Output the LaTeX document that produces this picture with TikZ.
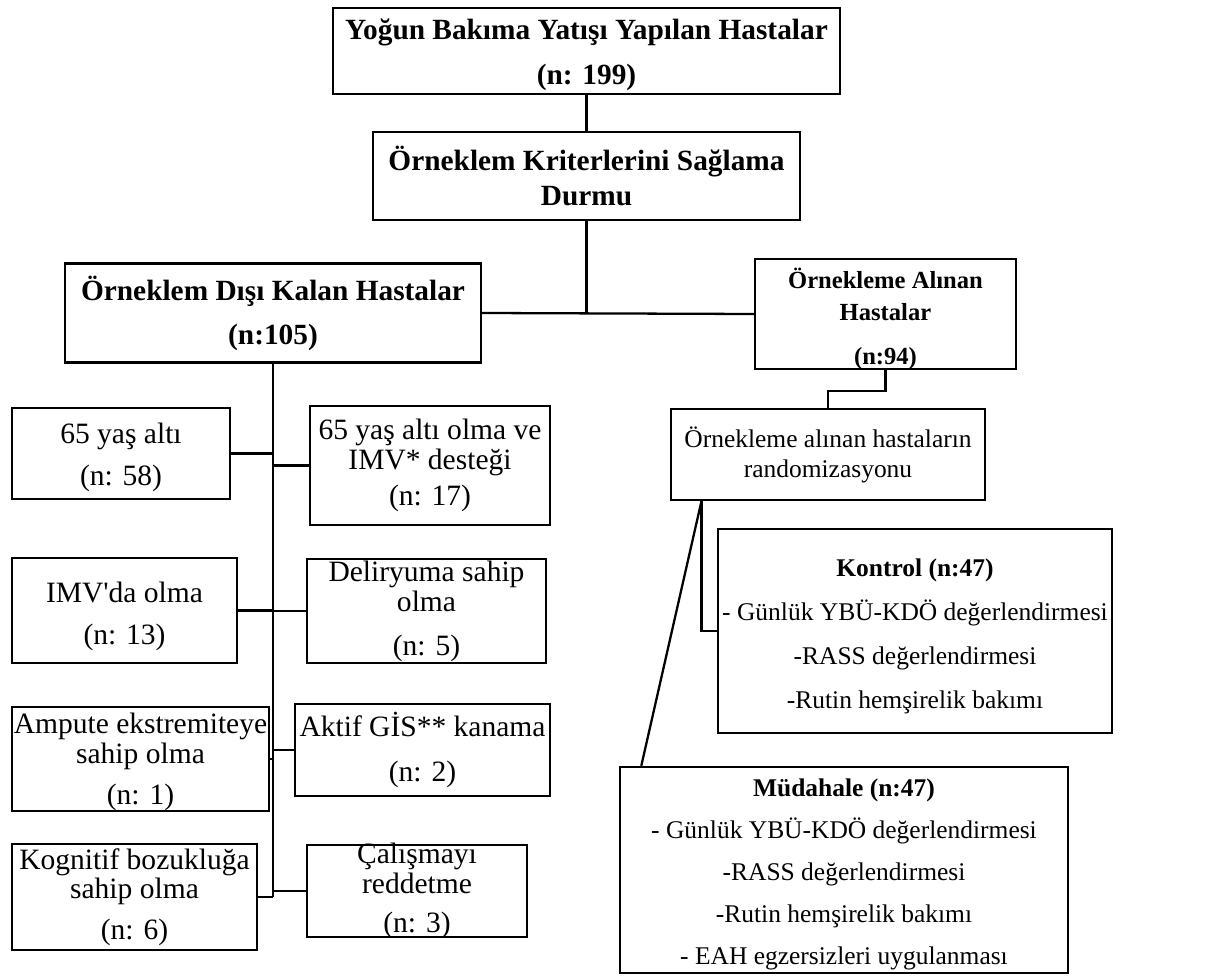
\documentclass[tikz,border=0pt]{standalone}
\usepackage{fontspec}
\setmainfont{Liberation Serif}
\usetikzlibrary{calc}
\NewDocumentCommand\ustpay{m}{\rule{0pt}{#1}}

\tikzset{
  kutu/.style={draw,line width=1.4pt,align=center,inner sep=0pt},
  madde/.style={kutu,font=\fontsize{16.8}{17}\selectfont},
  grup/.style={kutu,font=\fontsize{14.5}{17}\selectfont},
  baslik/.style={kutu,font=\fontsize{16.7}{20}\selectfont\bfseries},
  hat/.style={line width=1.3pt},
  olcu/.style 2 args={minimum width=#1*0.02cm,minimum height=#2*0.02cm},
}

\begin{document}
\begin{tikzpicture}[x=0.02cm,y=-0.02cm]
\useasboundingbox (0,0) rectangle (1216,976);
% ust kisim
\node[baslik,olcu={507}{86}] (yatis) at (586.5,51) {\ustpay{16pt}Yoğun Bakıma Yatışı Yapılan Hastalar\\[6pt](n: 199)};
\node[baslik,olcu={427}{88}] (kriter) at (586.5,176) {Örneklem Kriterlerini Sağlama\\Durmu};
\node[baslik,olcu={416}{99}] (disi) at (273,313) {Örneklem Dışı Kalan Hastalar\\[5pt](n:105)};
\node[baslik,font=\fontsize{14}{18}\selectfont\bfseries,olcu={261}{110},inner ysep=-3.6pt] (alinan) at (885.5,314) {\ustpay{17pt}Örnekleme Alınan\\Hastalar\\[7pt](n:94)};
% dislanan hastalar
\node[madde,olcu={218}{91}] (alti) at (121,453.5) {\ustpay{16pt}65 yaş altı\\[7pt](n: 58)};
\node[madde,olcu={225}{105}] (imv) at (124.5,610.5) {\ustpay{18pt}IMV\textquotesingle da olma\\[7pt](n: 13)};
\node[madde,olcu={257}{104}] (ampute) at (140.5,759) {\ustpay{15pt}Ampute ekstremiteye\\sahip olma\\[6pt](n: 1)};
\node[madde,olcu={245}{106}] (kognitif) at (134.5,897) {Kognitif bozukluğa\\sahip olma\\[6pt](n: 6)};
\node[madde,olcu={240}{119}] (altiimv) at (430,465.5) {65 yaş altı olma ve\\IMV* desteği\\[4pt](n: 17)};
\node[madde,olcu={239}{104}] (deliryum) at (426.5,611) {Deliryuma sahip\\olma\\[8pt](n: 5)};
\node[madde,olcu={255}{92}] (gis) at (422.5,750) {Aktif GİS** kanama\\[9pt](n: 2)};
\node[madde,olcu={220}{92},inner ysep=-3pt] (ret) at (417,891) {Çalışmayı\\reddetme\\[5pt](n: 3)};
% randomizasyon
\node[grup,olcu={314}{91}] (rand) at (828,454.5) {Örnekleme alınan hastaların\\randomizasyonu};
\node[grup,olcu={394}{204}] (kontrol) at (915,631) {\ustpay{16pt}\textbf{Kontrol (n:47)}\\[8pt]- Günlük YBÜ-KDÖ değerlendirmesi\\[8pt]-RASS değerlendirmesi\\[8pt]-Rutin hemşirelik bakımı};
\node[grup,olcu={448}{206},inner ysep=-2pt] (mudahale) at (844,870) {\ustpay{15pt}\textbf{Müdahale (n:47)}\\[7pt]- Günlük YBÜ-KDÖ değerlendirmesi\\[7pt]-RASS değerlendirmesi\\[7pt]-Rutin hemşirelik bakımı\\[7pt]- EAH egzersizleri uygulanması};

% baglantilar
\draw[hat] (yatis) -- (kriter);
\draw[hat] (kriter) -- (kriter |- disi.east);
\draw[hat] (disi.east) -- (alinan.west);
\coordinate (govde) at (disi.south |- kognitif.east);
\draw[hat] (disi) -- (govde);
\foreach \k in {alti,imv,ampute,kognitif} \draw[hat] (\k.east) -- (\k.east -| govde);
\foreach \k in {altiimv,deliryum,gis,ret} \draw[hat] (\k.west) -- (\k.west -| govde);
\draw[hat] (alinan.south) -- ++(0,21) -| (rand.north);
\coordinate (ayrim) at ($(rand.south west)!0.1!(rand.south east)$);
\coordinate (mgiris) at ($(mudahale.north west)!0.05!(mudahale.north east)$);
\draw[hat] (ayrim) |- (kontrol.west);
\draw[hat] (ayrim) -- (mgiris);
\end{tikzpicture}
\end{document}
